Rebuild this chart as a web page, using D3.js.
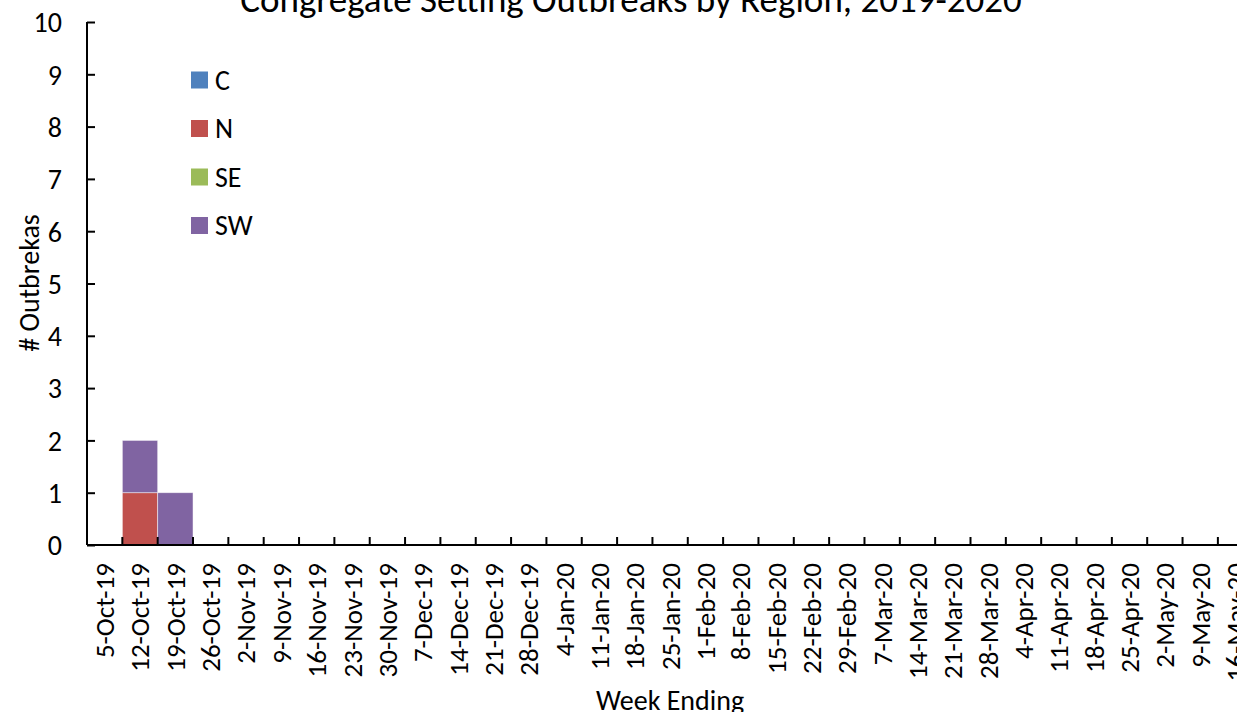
<!DOCTYPE html>
<html>
<head>
<meta charset="utf-8">
<script src="https://cdn.jsdelivr.net/npm/d3@7"></script>
<style>
  body { margin: 0; background: #fff; overflow: hidden; }
  text { font-family: Carlito, Lato, "Open Sans", sans-serif; fill: #000; }
</style>
</head>
<body>
<div id="chart"></div>
<script>
// week ending labels
const weeks = ["5-Oct-19", "12-Oct-19", "19-Oct-19", "26-Oct-19", "2-Nov-19", "9-Nov-19", "16-Nov-19",
  "23-Nov-19", "30-Nov-19", "7-Dec-19", "14-Dec-19", "21-Dec-19", "28-Dec-19", "4-Jan-20", "11-Jan-20",
  "18-Jan-20", "25-Jan-20", "1-Feb-20", "8-Feb-20", "15-Feb-20", "22-Feb-20", "29-Feb-20", "7-Mar-20",
  "14-Mar-20", "21-Mar-20", "28-Mar-20", "4-Apr-20", "11-Apr-20", "18-Apr-20", "25-Apr-20", "2-May-20",
  "9-May-20", "16-May-20"];

// outbreaks per region
const C  = [0, 0, 0, 0, 0, 0, 0, 0, 0, 0, 0, 0, 0, 0, 0, 0, 0, 0, 0, 0, 0, 0, 0, 0, 0, 0, 0, 0, 0, 0, 0, 0, 0];
const N  = [0, 1, 0, 0, 0, 0, 0, 0, 0, 0, 0, 0, 0, 0, 0, 0, 0, 0, 0, 0, 0, 0, 0, 0, 0, 0, 0, 0, 0, 0, 0, 0, 0];
const SE = [0, 0, 0, 0, 0, 0, 0, 0, 0, 0, 0, 0, 0, 0, 0, 0, 0, 0, 0, 0, 0, 0, 0, 0, 0, 0, 0, 0, 0, 0, 0, 0, 0];
const SW = [0, 1, 1, 0, 0, 0, 0, 0, 0, 0, 0, 0, 0, 0, 0, 0, 0, 0, 0, 0, 0, 0, 0, 0, 0, 0, 0, 0, 0, 0, 0, 0, 0];

const regions = ["C", "N", "SE", "SW"];
const colors = ["#4F81BD", "#C0504D", "#9BBB59", "#8064A2"];
const yTicks = [0, 1, 2, 3, 4, 5, 6, 7, 8, 9, 10];

const width = 1237;
const height = 712;
const margin = { top: 22, left: 87, bottom: 167 };
const catW = 35.34;
const fs = 28;

const svg = d3.select("#chart")
  .append("svg")
  .attr("width", width)
  .attr("height", height);

const table = weeks.map((w, i) => ({ week: w, C: C[i], N: N[i], SE: SE[i], SW: SW[i] }));
const stacked = d3.stack().keys(regions)(table);

const x = d3.scaleBand()
  .domain(weeks)
  .range([margin.left, margin.left + catW * weeks.length])
  .paddingInner(0)
  .paddingOuter(0);

const y = d3.scaleLinear()
  .domain([0, 10])
  .range([height - margin.bottom, margin.top]);

const color = d3.scaleOrdinal().domain(regions).range(colors);

// bars
svg.append("g")
  .selectAll("g")
  .data(stacked)
  .join("g")
  .attr("fill", d => color(d.key))
  .selectAll("rect")
  .data(d => d.filter(p => p[1] > p[0]))
  .join("rect")
  .attr("x", d => x(d.data.week))
  .attr("y", d => y(d[1]))
  .attr("width", x.bandwidth())
  .attr("height", d => y(d[0]) - y(d[1]))
  .attr("stroke", "#fff")
  .attr("stroke-opacity", 0.6)
  .attr("stroke-width", 0.8);

// x axis: ticks between categories, pointing up
const xg = svg.append("g")
  .attr("transform", `translate(0,${y(0)})`);
xg.append("line")
  .attr("x1", margin.left).attr("x2", width)
  .attr("stroke", "#000").attr("stroke-width", 2);
xg.selectAll(".tk")
  .data(weeks)
  .join("line")
  .attr("x1", d => x(d) + x.bandwidth()).attr("x2", d => x(d) + x.bandwidth())
  .attr("y1", 0).attr("y2", -8)
  .attr("stroke", "#000").attr("stroke-width", 2);
xg.selectAll(".lbl")
  .data(weeks)
  .join("text")
  .attr("transform", d => `translate(${x(d) + x.bandwidth() / 2},18) rotate(-90)`)
  .attr("text-anchor", "end")
  .attr("dy", "0.35em")
  .style("font-size", "27px")
  .text(d => d);

// y axis
const yAxis = d3.axisRight(y).tickValues(yTicks).tickSize(8).tickFormat(d3.format("d"));
const yg = svg.append("g")
  .attr("transform", `translate(${margin.left},0)`)
  .call(yAxis);
yg.select(".domain").attr("stroke", "#000").attr("stroke-width", 2)
  .attr("d", `M0,${y(10)}V${y(0)}`);
yg.selectAll(".tick line").attr("stroke", "#000").attr("stroke-width", 2);
yg.selectAll(".tick text")
  .attr("x", -25)
  .attr("dy", "0.35em")
  .attr("text-anchor", "end")
  .style("font-size", fs + "px")
  .attr("fill", "#000");

// title
svg.append("text")
  .attr("x", 631)
  .attr("y", 12)
  .attr("text-anchor", "middle")
  .style("font-size", "37px")
  .text("Congregate Setting Outbreaks by Region, 2019-2020");

// axis titles
svg.append("text")
  .attr("transform", "translate(39,283) rotate(-90)")
  .attr("text-anchor", "middle")
  .style("font-size", fs + "px")
  .text("# Outbrekas");

svg.append("text")
  .attr("x", 670)
  .attr("y", 710)
  .attr("text-anchor", "middle")
  .style("font-size", fs + "px")
  .text("Week Ending");

// legend
const legend = svg.append("g")
  .selectAll("g")
  .data(regions)
  .join("g")
  .attr("transform", (d, i) => `translate(191,${80 + i * 48.5})`);
legend.append("rect")
  .attr("x", 0).attr("y", -8.5)
  .attr("width", 17).attr("height", 17)
  .attr("fill", d => color(d));
legend.append("text")
  .attr("x", 24).attr("y", 0)
  .attr("dy", "0.35em")
  .style("font-size", fs + "px")
  .text(d => d);
</script>
</body>
</html>
